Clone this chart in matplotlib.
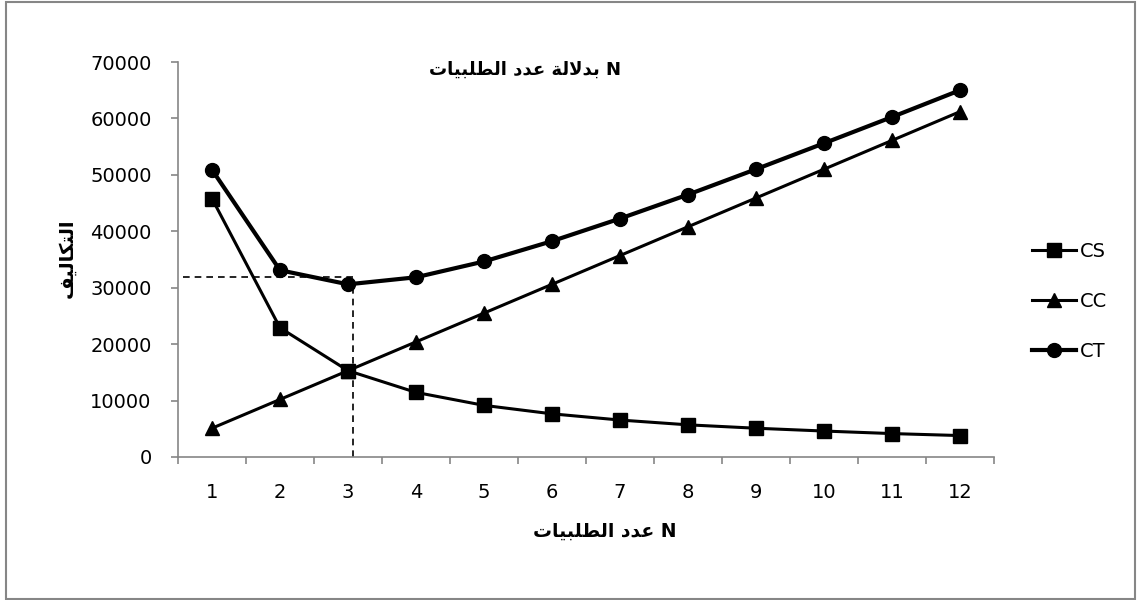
import numpy as np
import matplotlib
matplotlib.use("Agg")
import matplotlib.pyplot as plt
from matplotlib.patches import Rectangle

# order quantity N and cost series
N = [1, 2, 3, 4, 5, 6, 7, 8, 9, 10, 11, 12]
CS = [45800, 22900, 15300, 11450, 9150, 7650, 6550, 5700, 5100, 4600, 4150, 3800]
CC = [5100, 10200, 15300, 20400, 25500, 30600, 35700, 40800, 45900, 51000, 56100, 61200]
CT = [50900, 33100, 30600, 31850, 34650, 38250, 42250, 46500, 51000, 55600, 60250, 65000]
yticks = [0, 10000, 20000, 30000, 40000, 50000, 60000, 70000]

# optimum guide lines
N_opt = 3.08
CT_guide = 31900
CT_min = 30500

# arabic presentation forms: isolated, final, initial, medial
FORMS = {
    'ا': ('\uFE8D', '\uFE8E', '\uFE8D', '\uFE8E'),
    'ب': ('\uFE8F', '\uFE90', '\uFE91', '\uFE92'),
    'ت': ('\uFE95', '\uFE96', '\uFE97', '\uFE98'),
    'ة': ('\uFE93', '\uFE94', '\uFE93', '\uFE94'),
    'د': ('\uFEA9', '\uFEAA', '\uFEA9', '\uFEAA'),
    'ط': ('\uFEC1', '\uFEC2', '\uFEC3', '\uFEC4'),
    'ع': ('\uFEC9', '\uFECA', '\uFECB', '\uFECC'),
    'ف': ('\uFED1', '\uFED2', '\uFED3', '\uFED4'),
    'ك': ('\uFED9', '\uFEDA', '\uFEDB', '\uFEDC'),
    'ل': ('\uFEDD', '\uFEDE', '\uFEDF', '\uFEE0'),
    'ي': ('\uFEF1', '\uFEF2', '\uFEF3', '\uFEF4'),
}
NO_LEFT = set('اةد')


def shape(word):
    out = []
    i = 0
    prev_joins = False
    while i < len(word):
        c = word[i]
        if c == 'ل' and i + 1 < len(word) and word[i + 1] == 'ا':
            out.append('\uFEFC' if prev_joins else '\uFEFB')
            prev_joins = False
            i += 2
            continue
        nxt = i + 1 < len(word) and word[i + 1] in FORMS
        joins_next = nxt and c not in NO_LEFT
        f = FORMS[c]
        if prev_joins and joins_next:
            out.append(f[3])
        elif prev_joins:
            out.append(f[1])
        elif joins_next:
            out.append(f[2])
        else:
            out.append(f[0])
        prev_joins = joins_next
        i += 1
    return ''.join(reversed(out))


def rtl(text, suffix=''):
    # arabic run laid out right to left, latin suffix kept on the right
    words = [shape(w) for w in text.split()]
    s = ' '.join(reversed(words))
    return s + (' ' + suffix if suffix else '')


title_txt = rtl('بدلالة عدد الطلبيات', 'N')
xlabel_txt = rtl('عدد الطلبيات', 'N')
ylabel_txt = rtl('التكاليف')

plt.rcParams['font.family'] = 'DejaVu Sans'
gray = '#868686'

fig = plt.figure(figsize=(11.37, 6.0), dpi=100)
ax = fig.add_axes([178 / 1137, 1 - 457 / 600, (994 - 178) / 1137, (457 - 62) / 600])

ax.plot(N, CS, color='black', lw=2.2, marker='s', ms=9.5, label='CS', zorder=3)
ax.plot(N, CC, color='black', lw=2.2, marker='^', ms=10, label='CC', zorder=3)
ax.plot(N, CT, color='black', lw=3, marker='o', ms=10, label='CT', zorder=3)

ax.plot([0.57, N_opt], [CT_guide, CT_guide], color='black', lw=1.2, ls=(0, (4, 3)), zorder=1)
ax.plot([N_opt, N_opt], [0, CT_min], color='black', lw=1.2, ls=(0, (4, 3)), zorder=1)

ax.set_xlim(0.5, 12.5)
ax.set_ylim(0, 70000)
ax.set_yticks(yticks)
ax.set_yticklabels([str(v) for v in yticks])
ax.set_xticks(np.arange(0.5, 13, 1))
ax.set_xticklabels([])
ax.set_xticks(N, minor=True)
ax.set_xticklabels([str(n) for n in N], minor=True)

ax.tick_params(axis='y', direction='out', length=5, width=1.2, color=gray, labelsize=14, pad=14)
ax.tick_params(axis='x', which='major', direction='out', length=5, width=1.2, color=gray)
ax.tick_params(axis='x', which='minor', length=0, labelsize=14, pad=19)

for s in ['top', 'right']:
    ax.spines[s].set_visible(False)
for s in ['left', 'bottom']:
    ax.spines[s].set_color(gray)
    ax.spines[s].set_linewidth(1.2)

fig.text(525 / 1137, 1 - 70 / 600, title_txt, ha='center', va='center', fontsize=13, fontweight='bold')
fig.text(605 / 1137, 1 - 531 / 600, xlabel_txt, ha='center', va='center', fontsize=13.5, fontweight='bold')
fig.text(67 / 1137, 1 - 258 / 600, ylabel_txt, ha='center', va='center', rotation=90, fontsize=14, fontweight='bold')

ax.legend(loc='upper left', bbox_to_anchor=(1022 / 1137, 1 - 232 / 600), bbox_transform=fig.transFigure,
          frameon=False, fontsize=14, handlelength=2.3, handletextpad=0.2, labelspacing=1.6, borderpad=0)

fig.add_artist(Rectangle((6 / 1137, 1 / 600), 1129 / 1137, 597 / 600, transform=fig.transFigure,
                         fill=False, edgecolor=gray, lw=1.5))

fig.savefig('out.png', dpi=100)
